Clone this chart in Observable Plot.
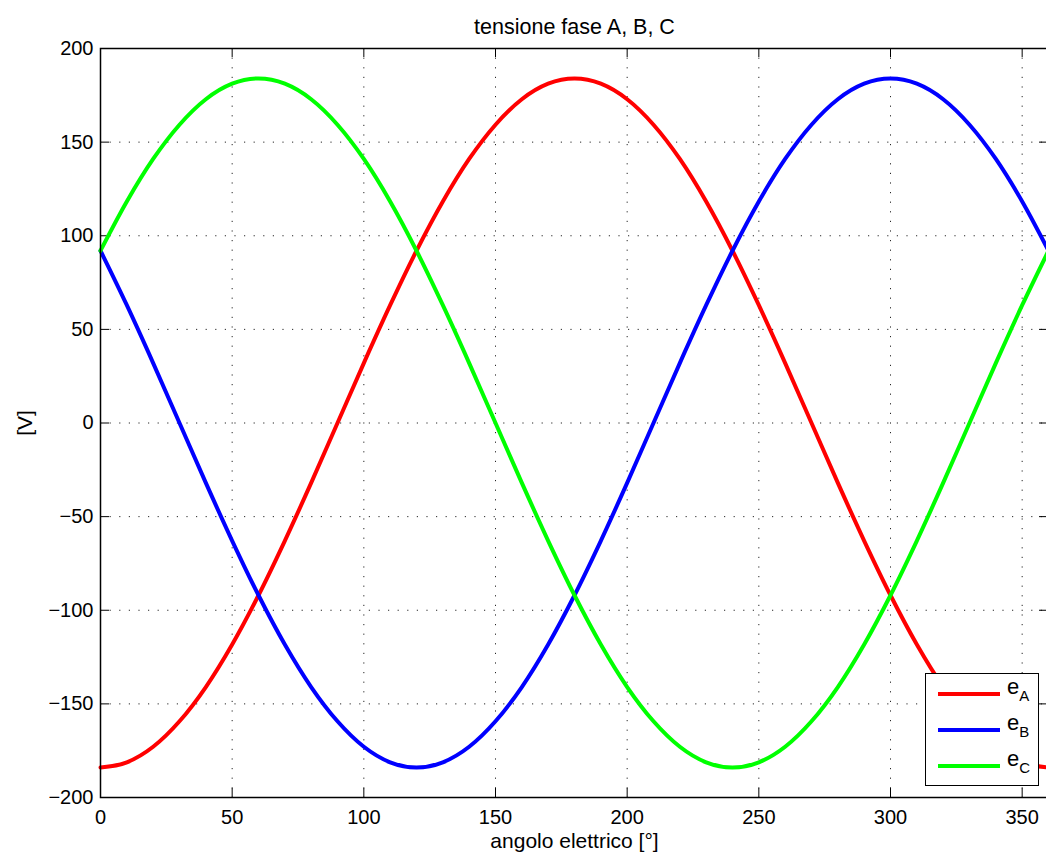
<!DOCTYPE html>
<html>
<head>
<meta charset="utf-8">
<script src="https://cdn.jsdelivr.net/npm/d3@7"></script>
<script src="https://cdn.jsdelivr.net/npm/@observablehq/plot@0.6"></script>
<style>
  html, body { margin: 0; padding: 0; background: #fff; }
  #wrap { position: relative; width: 1046px; height: 858px; overflow: hidden; font-family: "Liberation Sans", Arial, sans-serif; }
  #legend { position: absolute; left: 925px; top: 673px; width: 112px; height: 111px; border: 1px solid #000; background: #fff; }
  .row { position: absolute; left: 0; height: 36px; width: 112px; }
  .sw { position: absolute; left: 12px; width: 62px; height: 4px; top: 0; }
  .lab { position: absolute; left: 81px; font-size: 22px; line-height: 1; color: #000; white-space: nowrap; }
  .lab sub { font-size: 15px; vertical-align: -7px; }
</style>
</head>
<body>
<div id="wrap"></div>
<script>
// angolo elettrico [°] (sampled every 10°)
const angles = [0,10,20,30,40,50,60,70,80,90,100,110,120,130,140,150,160,170,180,190,200,210,220,230,240,250,260,270,280,290,300,310,320,330,340,350,360];
// tensione [V]
const eA = [-184,-181.2,-172.9,-159.3,-141,-118.3,-92,-62.9,-32,0,32,62.9,92,118.3,141,159.3,172.9,181.2,184,181.2,172.9,159.3,141,118.3,92,62.9,32,0,-32,-62.9,-92,-118.3,-141,-159.3,-172.9,-181.2,-184];
const eB = [92,62.9,32,0,-32,-62.9,-92,-118.3,-141,-159.3,-172.9,-181.2,-184,-181.2,-172.9,-159.3,-141,-118.3,-92,-62.9,-32,0,32,62.9,92,118.3,141,159.3,172.9,181.2,184,181.2,172.9,159.3,141,118.3,92];
const eC = [92,118.3,141,159.3,172.9,181.2,184,181.2,172.9,159.3,141,118.3,92,62.9,32,0,-32,-62.9,-92,-118.3,-141,-159.3,-172.9,-181.2,-184,-181.2,-172.9,-159.3,-141,-118.3,-92,-62.9,-32,0,32,62.9,92];

const seriesNames = ["A", "B", "C"];
const seriesColors = ["#ff0000", "#0000ff", "#00ff00"];
const xTicks = [0,50,100,150,200,250,300,350];
const yTicks = [-200,-150,-100,-50,0,50,100,150,200];
const title = "tensione fase A, B, C";
const xLabel = "angolo elettrico [°]";
const yLabel = "[V]";

const series = [eA, eB, eC];
const rows = [];
series.forEach((vals, s) => vals.forEach((v, i) => rows.push({angle: angles[i], value: v, phase: seriesNames[s]})));

const W = 1046, H = 858;
const mT = 48, mB = 61, mL = 100, mR = -2;
const plotH = H - mT - mB, plotW = W - mL - mR;
const fmt = d => d < 0 ? "\u2212" + (-d) : String(d);
const font = "Liberation Sans, Arial, sans-serif";

const chart = Plot.plot({
  width: W, height: H,
  marginTop: mT, marginBottom: mB, marginLeft: mL, marginRight: mR,
  style: {fontFamily: font, fontSize: "20px", background: "#fff", color: "#000", overflow: "visible"},
  x: {domain: [0, 360]},
  y: {domain: [-200, 200]},
  color: {domain: seriesNames, range: seriesColors},
  marks: [
    Plot.gridX(xTicks.filter(d => d > 0), {stroke: "#000", strokeOpacity: 0.85, strokeWidth: 1, strokeDasharray: "1.2,8.4"}),
    Plot.gridY(yTicks.filter(d => d > -200 && d < 200), {stroke: "#000", strokeOpacity: 0.85, strokeWidth: 1, strokeDasharray: "1.2,8.4"}),
    // inward ticks
    Plot.tickX(xTicks, {x: d => d, insetTop: plotH - 9, stroke: "#000"}),
    Plot.tickX(xTicks, {x: d => d, insetBottom: plotH - 9, stroke: "#000"}),
    Plot.tickY(yTicks, {y: d => d, insetRight: plotW - 9, stroke: "#000"}),
    Plot.tickY(yTicks, {y: d => d, insetLeft: plotW - 9, stroke: "#000"}),
    Plot.axisX({ticks: xTicks, tickSize: 0, tickPadding: 12, tickFormat: fmt, label: null, fontSize: 20}),
    Plot.axisY({ticks: yTicks, tickSize: 0, tickPadding: 7, tickFormat: fmt, label: null, fontSize: 20}),
    Plot.line(rows, {x: "angle", y: "value", z: "phase", stroke: "phase", strokeWidth: 4, curve: "monotone-x"}),
    Plot.frame({stroke: "#000", strokeWidth: 1.5}),
    Plot.text([title], {frameAnchor: "top", lineAnchor: "middle", textAnchor: "middle", dy: -21, text: d => d, fontSize: 21.5}),
    Plot.text([xLabel], {frameAnchor: "bottom", lineAnchor: "middle", textAnchor: "middle", dy: 44, text: d => d, fontSize: 21}),
    Plot.text([yLabel], {frameAnchor: "left", lineAnchor: "middle", textAnchor: "middle", dx: -75, rotate: -90, text: d => d, fontSize: 21})
  ]
});
document.getElementById("wrap").appendChild(chart);

// legend
const legend = document.createElement("div");
legend.id = "legend";
seriesNames.forEach((name, i) => {
  const row = document.createElement("div");
  row.className = "row";
  row.style.top = (18 + i * 36) + "px";
  const sw = document.createElement("div");
  sw.className = "sw";
  sw.style.background = seriesColors[i];
  const lab = document.createElement("div");
  lab.className = "lab";
  lab.style.top = "-16px";
  lab.innerHTML = "e<sub>" + name + "</sub>";
  row.appendChild(sw);
  row.appendChild(lab);
  legend.appendChild(row);
});
document.getElementById("wrap").appendChild(legend);
</script>
</body>
</html>
